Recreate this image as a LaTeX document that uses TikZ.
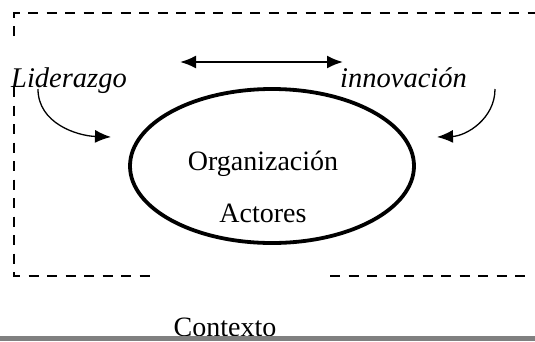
\documentclass[tikz,border=0pt]{standalone}
\usepackage{fontspec}
\setmainfont{Liberation Serif}
\usetikzlibrary{arrows.meta}
\begin{document}
\begin{tikzpicture}[x=1pt,y=-1pt,
  frame/.style={line width=2pt,dash pattern=on 10pt off 8.5pt},
  lbl/.style={font=\fontsize{28}{30}\selectfont,inner sep=0pt,anchor=base},
  ilbl/.style={font=\fontsize{28.5}{30}\selectfont\itshape,inner sep=0pt,anchor=base west},
  tip/.style={-{Latex[length=16pt,width=13pt]}},
  dtip/.style={{Latex[length=16pt,width=13pt]}-{Latex[length=16pt,width=13pt]}}]
\useasboundingbox (0,0) rectangle (535,341);
% frame
\coordinate (tl) at (14,13);
\coordinate (tr) at (535,13);
\coordinate (lg1) at (14,36);
\coordinate (lg2) at (14,87);
\coordinate (bl) at (14,276);
\coordinate (bm1) at (153,276);
\coordinate (bm2) at (330,276);
\coordinate (br) at (530,276);
\draw[frame] (lg1) -- (tl) -- (tr);
\draw[frame] (lg2) -- (bl) -- (bm1);
\draw[frame] (bm2) -- (br);
% ellipse
\draw[line width=3.8pt] (272,166) ellipse [x radius=142, y radius=77];
\node[lbl] (org) at (263,170) {Organización};
\node[lbl] (act) at (263,222) {Actores};
% labels
\node[ilbl] (lid) at (11,87) {Liderazgo};
\node[ilbl] (inn) at (340,87) {innovación};
% double arrow
\coordinate (da1) at (180,62);
\coordinate (da2) at (343,62);
\draw[line width=2pt,dtip] (da1) -- (da2);
% curved arrows
\coordinate (l1) at (38,89);
\coordinate (l2) at (111,137);
\coordinate (r1) at (495,89);
\coordinate (r2) at (437,137);
\draw[line width=1.3pt,tip] (l1) to[out=-90,in=178] (l2);
\draw[line width=1.3pt,tip] (r1) to[out=-90,in=2] (r2);
% context
\node[lbl] (ctx) at (225,336) {Contexto};
\fill[gray] (0,336) rectangle (535,341);
\end{tikzpicture}
\end{document}
